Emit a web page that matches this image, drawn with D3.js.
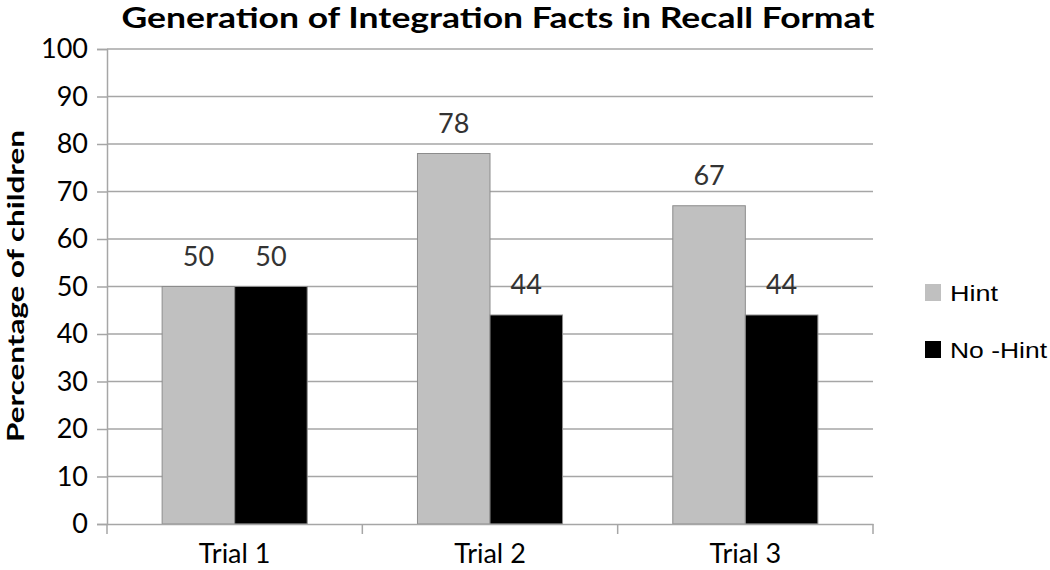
<!DOCTYPE html>
<html><head><meta charset="utf-8">
<script src="https://cdn.jsdelivr.net/npm/d3@7"></script>
<style>body{margin:0;background:#fff}</style>
</head><body>
<svg id="c" width="1050" height="570"></svg>
<script>
const categories = ["Trial 1", "Trial 2", "Trial 3"];
const seriesNames = ["Hint", "No-Hint"];
const legendLabels = ["Hint", "No -Hint"];
const hintValues = [50, 78, 67];
const noHintValues = [50, 44, 44];
const yTicks = [0,10,20,30,40,50,60,70,80,90,100];
const colors = ["#c0c0c0", "#000000"];

const svg = d3.select("#c");
const mLeft = 107, mRight = 873, mTop = 49, mBottom = 524;
const font = "Lato, 'Open Sans', sans-serif";

const x = d3.scaleBand().domain(categories).range([mLeft, mRight]).padding(0);
const x1 = d3.scaleBand().domain(seriesNames).range([0, x.bandwidth()]).paddingInner(0).paddingOuter(0.76);
const y = d3.scaleLinear().domain([0, 100]).range([mBottom, mTop]);

// gridlines
svg.append("g").selectAll("line").data(yTicks.filter(d => d > 0)).join("line")
  .attr("x1", mLeft).attr("x2", mRight)
  .attr("y1", d => y(d)).attr("y2", d => y(d))
  .attr("stroke", "#a6a6a6").attr("stroke-width", 1.5);

// y axis
const yAxis = svg.append("g").attr("transform", `translate(${mLeft},0)`)
  .call(d3.axisLeft(y).tickValues(yTicks).tickSize(10).tickPadding(9));
yAxis.select(".domain").attr("stroke", "#a6a6a6").attr("stroke-width", 1.5);
yAxis.selectAll(".tick line").attr("stroke", "#a6a6a6").attr("stroke-width", 1.5);
yAxis.selectAll("text").attr("font-family", font).attr("font-size", 27).attr("fill", "#000");

const data = categories.map((c, i) => ({cat: c, vals: [hintValues[i], noHintValues[i]]}));

// bars
const groups = svg.append("g").selectAll("g").data(data).join("g")
  .attr("transform", d => `translate(${x(d.cat)},0)`);
groups.selectAll("rect").data(d => d.vals.map((v, j) => ({s: seriesNames[j], v, j}))).join("rect")
  .attr("x", d => x1(d.s)).attr("width", x1.bandwidth())
  .attr("y", d => y(d.v)).attr("height", d => y(0) - y(d.v))
  .attr("fill", d => colors[d.j]).attr("stroke", "#8c8c8c").attr("stroke-width", 1);
groups.selectAll("text").data(d => d.vals.map((v, j) => ({s: seriesNames[j], v, j}))).join("text")
  .attr("x", d => x1(d.s) + x1.bandwidth() / 2).attr("y", d => y(d.v) - 21)
  .attr("text-anchor", "middle").attr("font-family", font).attr("font-size", 27)
  .attr("fill", "#333").text(d => d.v);

// x axis
const xAxis = svg.append("g").attr("transform", `translate(0,${mBottom})`)
  .call(d3.axisBottom(x).tickSize(0));
xAxis.select(".domain").attr("stroke", "#a6a6a6").attr("stroke-width", 1.5);
xAxis.selectAll("text").attr("y", 39).attr("dy", 0)
  .attr("font-family", font).attr("font-size", 27).attr("fill", "#000");
svg.append("g").selectAll("line").data([mLeft, ...categories.map(c => x(c) + x.bandwidth())]).join("line")
  .attr("x1", d => d).attr("x2", d => d).attr("y1", mBottom).attr("y2", mBottom + 10)
  .attr("stroke", "#a6a6a6").attr("stroke-width", 1.5);

// title
svg.append("text").attr("x", 498).attr("y", 28).attr("text-anchor", "middle")
  .attr("font-family", font).attr("font-weight", "bold").attr("font-size", 28)
  .attr("textLength", 753).attr("lengthAdjust", "spacingAndGlyphs")
  .text("Generation of Integration Facts in Recall Format");

// y title
svg.append("text").attr("transform", "translate(24,286) rotate(-90)").attr("text-anchor", "middle")
  .attr("font-family", font).attr("font-weight", "bold").attr("font-size", 23)
  .attr("textLength", 312).attr("lengthAdjust", "spacingAndGlyphs")
  .text("Percentage of children");

// legend
const leg = svg.append("g").selectAll("g").data(seriesNames).join("g")
  .attr("transform", (d, i) => `translate(925,${284 + i * 57})`);
leg.append("rect").attr("width", 16).attr("height", 17).attr("fill", (d, i) => colors[i]);
leg.append("text").attr("x", 25).attr("y", 17).attr("font-family", "'Liberation Sans', Arial, sans-serif")
  .attr("font-size", 22).attr("fill", "#000")
  .attr("textLength", (d, i) => [48, 97][i]).attr("lengthAdjust", "spacingAndGlyphs")
  .text((d, i) => legendLabels[i]);
</script>
</body></html>
